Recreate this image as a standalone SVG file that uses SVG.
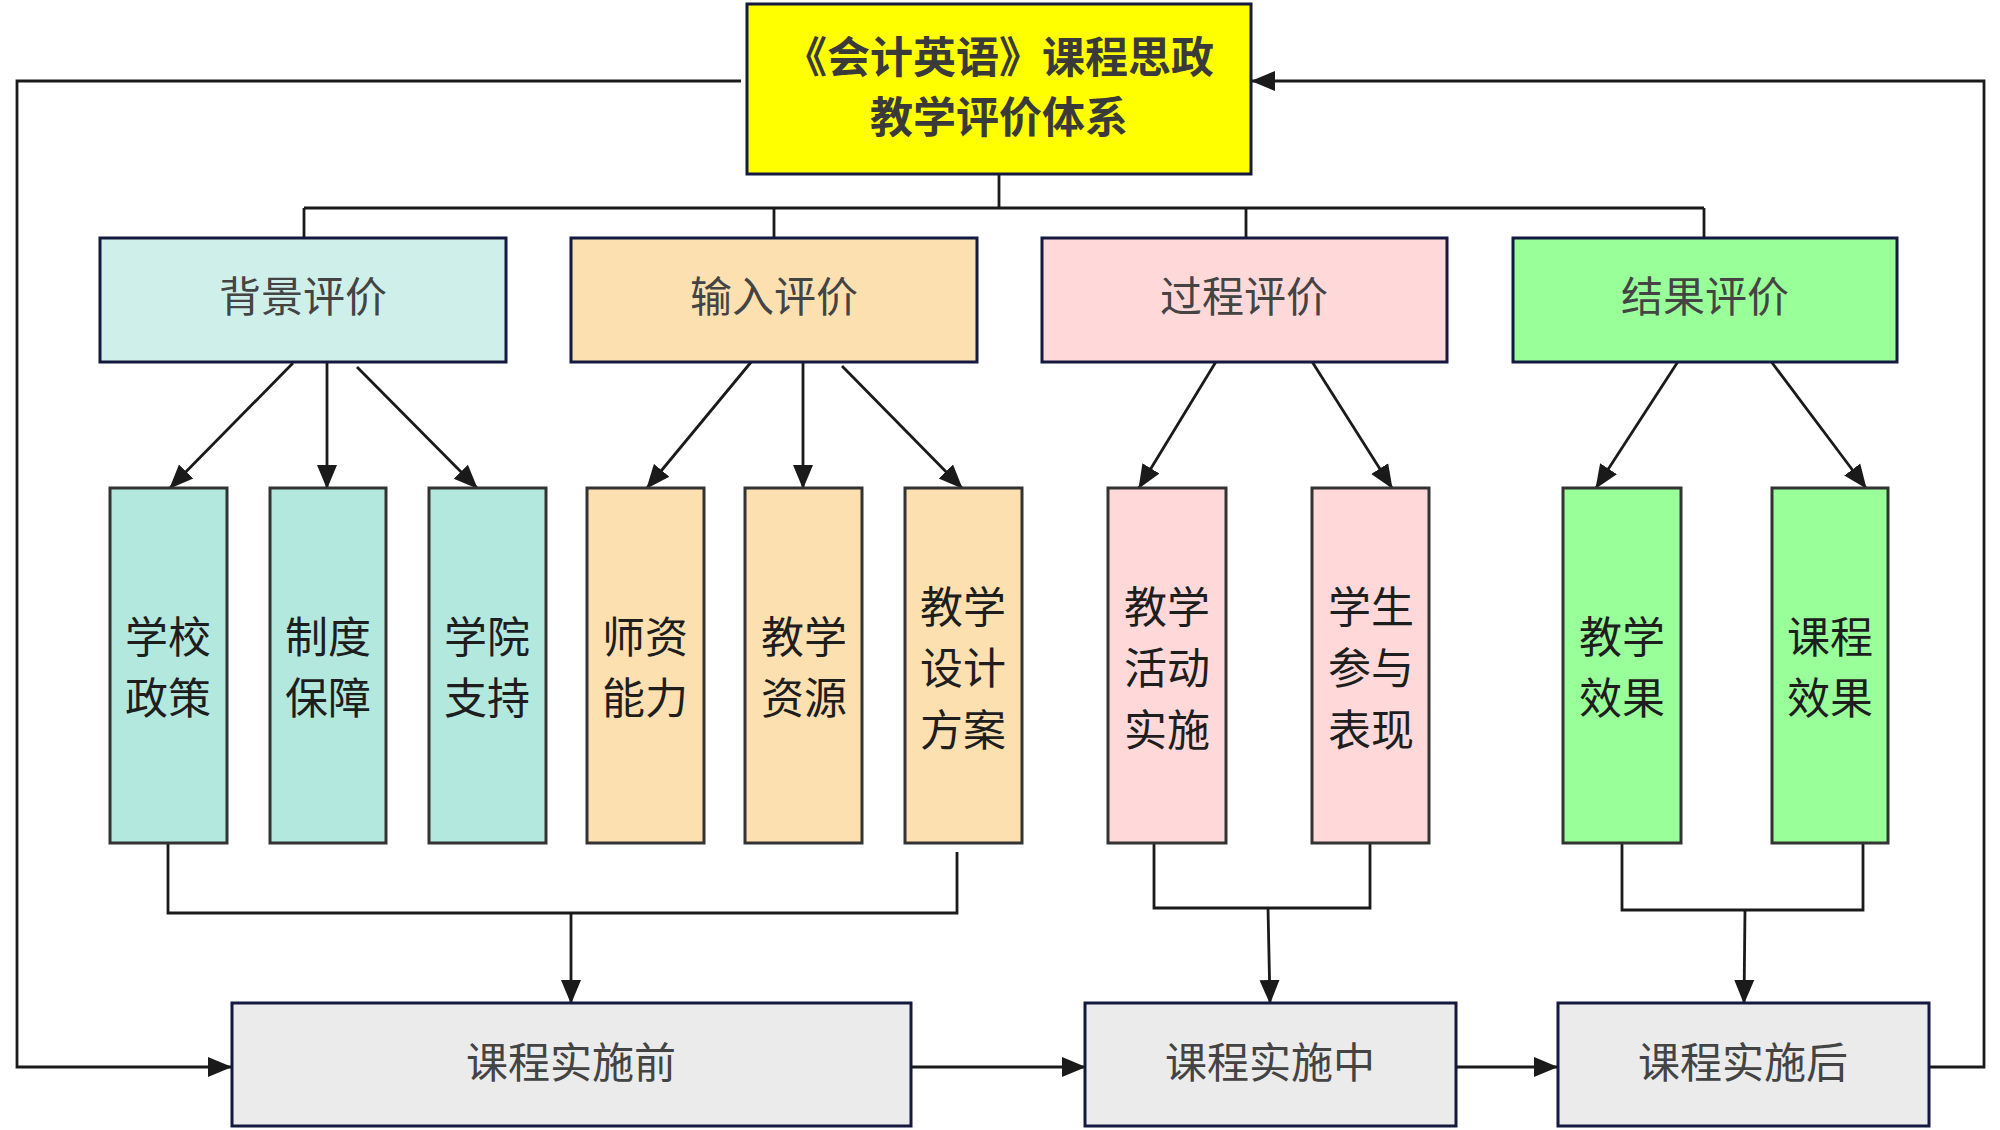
<svg xmlns="http://www.w3.org/2000/svg" width="2000" height="1130" viewBox="0 0 2000 1130">
<defs>
<style>
.t{font-family:"Noto Sans CJK SC","Noto Sans",sans-serif;text-anchor:middle;dominant-baseline:central}
.pt{font-size:42px;fill:#444}
.ct{font-size:43px;fill:#1e1e1e}
.tt{font-size:43px;font-weight:bold;fill:#3a3a3a}
.pbox{stroke:#14193f;stroke-width:3}
.cbox{stroke:#333;stroke-width:3}
.ln{fill:none;stroke:#1a1a1a;stroke-width:2.8}
</style>
<marker id="ah" markerUnits="userSpaceOnUse" markerWidth="24" markerHeight="22" refX="23" refY="11" orient="auto">
<path d="M0,1 L24,11 L0,21 z" fill="#1a1a1a"/>
</marker>
</defs>
<rect width="2000" height="1130" fill="#fff"/>

<g id="connectors">
<path class="ln" d="M999,174 V208 M304,208 H1704 M304,208 V238 M774,208 V238 M1246,208 V238 M1704,208 V238"/>
<path class="ln" d="M741,81 H17 V1067 H231" marker-end="url(#ah)"/>
<path class="ln" d="M1929,1067 H1984 V81 H1252" marker-end="url(#ah)"/>
<path class="ln" d="M293,363 L170,488" marker-end="url(#ah)"/>
<path class="ln" d="M327,363 V488" marker-end="url(#ah)"/>
<path class="ln" d="M357,367 L477,488" marker-end="url(#ah)"/>
<path class="ln" d="M752,361 L647,488" marker-end="url(#ah)"/>
<path class="ln" d="M803,363 V488" marker-end="url(#ah)"/>
<path class="ln" d="M842,366 L962,488" marker-end="url(#ah)"/>
<path class="ln" d="M1217,360 L1139,488" marker-end="url(#ah)"/>
<path class="ln" d="M1311,360 L1392,488" marker-end="url(#ah)"/>
<path class="ln" d="M1679,360 L1596,488" marker-end="url(#ah)"/>
<path class="ln" d="M1770,360 L1866,488" marker-end="url(#ah)"/>
<path class="ln" d="M168,843 V913 H957 V852"/>
<path class="ln" d="M571,913 V1003" marker-end="url(#ah)"/>
<path class="ln" d="M1154,843 V908 H1370 V843"/>
<path class="ln" d="M1268,908 L1270,1003" marker-end="url(#ah)"/>
<path class="ln" d="M1622,843 V910 H1863 V843"/>
<path class="ln" d="M1745,910 L1744,1003" marker-end="url(#ah)"/>
<path class="ln" d="M911,1067 H1085" marker-end="url(#ah)"/>
<path class="ln" d="M1450,1067 H1557" marker-end="url(#ah)"/>
</g>

<g id="root">
<rect class="pbox" x="747" y="4" width="504" height="170" fill="#ffff00"/>
<text class="t tt" x="999" y="54">《会计英语》课程思政</text>
<text class="t tt" x="999" y="114">教学评价体系</text>
</g>

<g id="p-bg"><rect class="pbox" x="100" y="238" width="406" height="124" fill="#cff0ea"/><text class="t pt" x="303" y="293">背景评价</text></g>
<g id="p-in"><rect class="pbox" x="571" y="238" width="406" height="124" fill="#fde0b0"/><text class="t pt" x="774" y="293">输入评价</text></g>
<g id="p-pr"><rect class="pbox" x="1042" y="238" width="405" height="124" fill="#ffd9d9"/><text class="t pt" x="1244" y="293">过程评价</text></g>
<g id="p-re"><rect class="pbox" x="1513" y="238" width="384" height="124" fill="#99ff99"/><text class="t pt" x="1705" y="293">结果评价</text></g>

<g id="c1"><rect class="cbox" x="110" y="488" width="117" height="355" fill="#b3e8de"/><text class="t ct" x="168" y="634">学校</text><text class="t ct" x="168" y="695">政策</text></g>
<g id="c2"><rect class="cbox" x="270" y="488" width="116" height="355" fill="#b3e8de"/><text class="t ct" x="328" y="634">制度</text><text class="t ct" x="328" y="695">保障</text></g>
<g id="c3"><rect class="cbox" x="429" y="488" width="117" height="355" fill="#b3e8de"/><text class="t ct" x="487" y="634">学院</text><text class="t ct" x="487" y="695">支持</text></g>
<g id="c4"><rect class="cbox" x="587" y="488" width="117" height="355" fill="#fde0b0"/><text class="t ct" x="645" y="634">师资</text><text class="t ct" x="645" y="695">能力</text></g>
<g id="c5"><rect class="cbox" x="745" y="488" width="117" height="355" fill="#fde0b0"/><text class="t ct" x="804" y="634">教学</text><text class="t ct" x="804" y="695">资源</text></g>
<g id="c6"><rect class="cbox" x="905" y="488" width="117" height="355" fill="#fde0b0"/><text class="t ct" x="963" y="604">教学</text><text class="t ct" x="963" y="665">设计</text><text class="t ct" x="963" y="727">方案</text></g>
<g id="c7"><rect class="cbox" x="1108" y="488" width="118" height="355" fill="#ffd9d9"/><text class="t ct" x="1167" y="604">教学</text><text class="t ct" x="1167" y="665">活动</text><text class="t ct" x="1167" y="727">实施</text></g>
<g id="c8"><rect class="cbox" x="1312" y="488" width="117" height="355" fill="#ffd9d9"/><text class="t ct" x="1371" y="604">学生</text><text class="t ct" x="1371" y="665">参与</text><text class="t ct" x="1371" y="727">表现</text></g>
<g id="c9"><rect class="cbox" x="1563" y="488" width="118" height="355" fill="#99ff99"/><text class="t ct" x="1622" y="634">教学</text><text class="t ct" x="1622" y="695">效果</text></g>
<g id="c10"><rect class="cbox" x="1772" y="488" width="116" height="355" fill="#99ff99"/><text class="t ct" x="1830" y="634">课程</text><text class="t ct" x="1830" y="695">效果</text></g>

<g id="b1"><rect class="pbox" x="232" y="1003" width="679" height="123" fill="#ebebeb"/><text class="t pt" x="571" y="1059">课程实施前</text></g>
<g id="b2"><rect class="pbox" x="1085" y="1003" width="371" height="123" fill="#ebebeb"/><text class="t pt" x="1270" y="1059">课程实施中</text></g>
<g id="b3"><rect class="pbox" x="1558" y="1003" width="371" height="123" fill="#ebebeb"/><text class="t pt" x="1743" y="1059">课程实施后</text></g>
</svg>
